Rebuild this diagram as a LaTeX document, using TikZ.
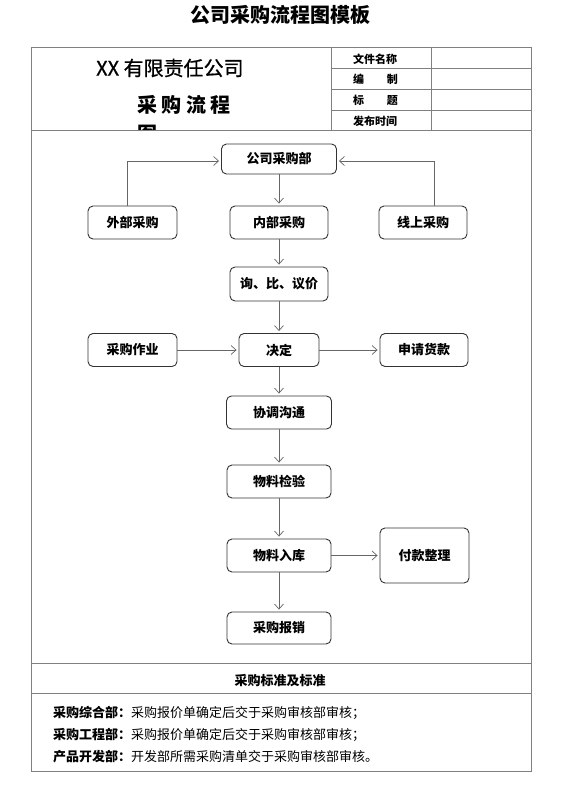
\documentclass[tikz,border=0pt]{standalone}
\usepackage{fontspec}
\setmainfont{Noto Sans CJK SC}
\newfontfamily\medfont{Noto Sans CJK SC}[FakeBold=0.8]
\usetikzlibrary{arrows.meta}
\begin{document}
\begin{tikzpicture}[x=1pt,y=-1pt,
  frame/.style={draw=black!50, line width=0.8pt},
  box/.style={draw=black!80, line width=0.9pt, rounded corners=5pt, minimum height=33pt, inner sep=0pt,
    font=\fontsize{13}{15}\selectfont\bfseries},
  arr/.style={draw=black!60, line width=0.7pt, -{Straight Barb[length=5pt,width=9pt]}, shorten >=2pt},
  celltxt/.style={font=\fontsize{11}{13}\selectfont\bfseries, inner sep=0pt},
  bodytxt/.style={anchor=west, inner sep=0pt, font=\fontsize{13}{15}\selectfont},
]
\useasboundingbox (0,0) rectangle (560,792);
\fill[white] (0,0) rectangle (560,792);

% title
\node[font=\fontsize{20}{24}\selectfont\bfseries] (title) at (280,15) {公司采购流程图模板};

% frame
\draw[frame] (31,47) rectangle (531,771);
\draw[frame] (31,130) -- (531,130);
\draw[frame] (331,47) -- (331,130);
\draw[frame] (431,47) -- (431,130);
\draw[frame] (331,68) -- (531,68);
\draw[frame] (331,89) -- (531,89);
\draw[frame] (331,110) -- (531,110);
\draw[frame] (31,663) -- (531,663);
\draw[frame] (31,693) -- (531,693);

% header left
\node[anchor=west, inner sep=0pt, font=\fontsize{20}{24}\medfont] (co) at (96,68) {XX 有限责任公司};
\begin{scope}
  \clip (31,47) rectangle (331,129.6);
  \node[anchor=west, inner sep=0pt, font=\fontsize{20}{24}\selectfont\bfseries] (lc) at (137,105) {采 购 流 程};
  \node[anchor=west, inner sep=0pt, font=\fontsize{20}{24}\selectfont\bfseries] (tu) at (137,134) {图};
\end{scope}

% header right
\node[celltxt] (c1) at (375.5,59) {\makebox[45pt][s]{文件名称}};
\node[celltxt] (c2) at (375.5,79.5) {\makebox[45pt]{编\hfill 制}};
\node[celltxt] (c3) at (375.5,100.5) {\makebox[45pt]{标\hfill 题}};
\node[celltxt] (c4) at (375.5,121) {\makebox[45pt][s]{发布时间}};

% flow nodes
\node[box, minimum width=115pt, minimum height=30pt] (gs) at (279,159) {公司采购部};
\node[box, minimum width=89pt] (wb) at (132.5,222.5) {外部采购};
\node[box, minimum width=98pt] (nb) at (279,222.5) {内部采购};
\node[box, minimum width=88pt] (xs) at (423,222.5) {线上采购};
\node[box, minimum width=98pt, minimum height=34pt] (xj) at (279,284) {询、比、议价};
\node[box, minimum width=89pt] (cz) at (132.5,350) {采购作业};
\node[box, minimum width=80pt] (jd) at (279,350) {决定};
\node[box, minimum width=88pt] (sq) at (424,350) {申请货款};
\node[box, minimum width=105pt] (xt) at (279,412.5) {协调沟通};
\node[box, minimum width=104pt] (jy) at (279,481.5) {物料检验};
\node[box, minimum width=104pt] (rk) at (279,555.5) {物料入库};
\node[box, minimum width=89pt, minimum height=55pt] (fk) at (424.5,555.5) {付款整理};
\node[box, minimum width=104pt, minimum height=32pt] (bx) at (279,628) {采购报销};

% connectors
\draw[arr] ([xshift=-5pt]wb.north) |- ([yshift=-2pt]gs.west);
\draw[arr] ([xshift=11pt]xs.north) |- ([yshift=-2pt]gs.east);
\draw[arr] (gs) -- (nb);
\draw[arr] (nb) -- (xj);
\draw[arr] (xj) -- (jd);
\draw[arr] (cz) -- (jd);
\draw[arr] (jd) -- (sq);
\draw[arr] (jd) -- (xt);
\draw[arr] (xt) -- (jy);
\draw[arr] (jy) -- (rk);
\draw[arr] (rk) -- (fk);
\draw[arr] (rk) -- (bx);

% bottom
\node[font=\fontsize{13}{15}\selectfont\bfseries] (std) at (280,681) {采购标准及标准};
\node[bodytxt] (l1) at (53,713) {\textbf{采购综合部：}采购报价单确定后交于采购审核部审核；};
\node[bodytxt] (l2) at (53,735) {\textbf{采购工程部：}采购报价单确定后交于采购审核部审核；};
\node[bodytxt] (l3) at (53,757) {\textbf{产品开发部：}开发部所需采购清单交于采购审核部审核。};
\end{tikzpicture}
\end{document}
